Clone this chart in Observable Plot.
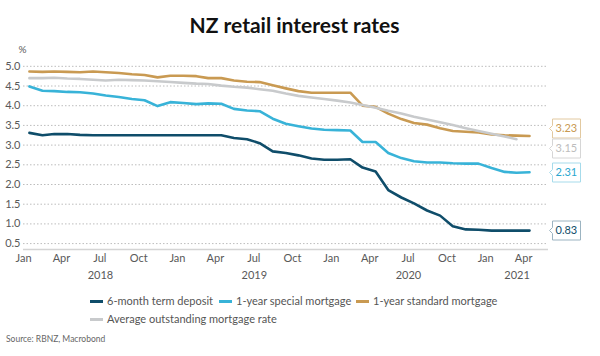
<!DOCTYPE html>
<html>
<head>
<meta charset="utf-8">
<script src="https://cdn.jsdelivr.net/npm/d3@7"></script>
<script src="https://cdn.jsdelivr.net/npm/@observablehq/plot@0.6"></script>
<style>
  html, body { margin: 0; padding: 0; background: #fff; }
  body { width: 600px; height: 356px; position: relative; overflow: hidden; font-family: Lato, "Open Sans", sans-serif; }
  #title { position: absolute; left: 0; top: 13px; width: 589px; text-align: center; font-size: 21px; font-weight: 700; color: #111; line-height: 24px; }
  #chart { position: absolute; left: 0; top: 40px; }
  .leg { position: absolute; height: 14px; line-height: 14px; display: flex; align-items: center; font-size: 11px; color: #555; white-space: nowrap; }
  .leg .sw { display: inline-block; width: 13px; height: 3px; margin-right: 4px; }
  #source { position: absolute; left: 6px; top: 333px; font-size: 8.5px; color: #666; line-height: 12px; }
</style>
</head>
<body>
<div id="title">NZ retail interest rates</div>
<div id="chart"></div>
<div id="legend"></div>
<div id="source">Source: RBNZ, Macrobond</div>
<script>
// ---------- data ----------
const months = [
  "2018-01","2018-02","2018-03","2018-04","2018-05","2018-06","2018-07","2018-08","2018-09","2018-10","2018-11","2018-12",
  "2019-01","2019-02","2019-03","2019-04","2019-05","2019-06","2019-07","2019-08","2019-09","2019-10","2019-11","2019-12",
  "2020-01","2020-02","2020-03","2020-04","2020-05","2020-06","2020-07","2020-08","2020-09","2020-10","2020-11","2020-12",
  "2021-01","2021-02","2021-03","2021-04"
];
const termDeposit = [
  3.31,3.25,3.28,3.28,3.26,3.25,3.25,3.25,3.25,3.25,3.25,3.25,
  3.25,3.25,3.25,3.25,3.18,3.15,3.05,2.84,2.80,2.74,2.66,2.63,
  2.63,2.64,2.43,2.33,1.86,1.67,1.52,1.34,1.21,0.94,0.86,0.85,
  0.83,0.83,0.83,0.83
];
const specialMortgage = [
  4.49,4.38,4.37,4.35,4.34,4.31,4.26,4.22,4.17,4.14,3.99,4.09,
  4.07,4.04,4.06,4.05,3.92,3.88,3.86,3.67,3.54,3.48,3.42,3.39,
  3.38,3.37,3.08,3.08,2.80,2.67,2.59,2.56,2.56,2.54,2.53,2.53,
  2.42,2.32,2.30,2.31
];
const standardMortgage = [
  4.87,4.86,4.87,4.86,4.85,4.87,4.85,4.83,4.80,4.78,4.72,4.76,
  4.76,4.75,4.70,4.70,4.64,4.61,4.60,4.52,4.44,4.37,4.33,4.33,
  4.33,4.33,4.00,3.97,3.80,3.66,3.56,3.52,3.43,3.36,3.34,3.32,
  3.27,3.25,3.24,3.23
];
const avgOutstanding = [
  4.70,4.70,4.71,4.69,4.68,4.66,4.64,4.66,4.65,4.64,4.62,4.60,
  4.58,4.56,4.55,4.51,4.48,4.46,4.42,4.38,4.31,4.25,4.21,4.17,
  4.13,4.08,4.02,3.95,3.87,3.80,3.72,3.65,3.58,3.51,3.43,3.36,
  3.29,3.22,3.15
];
const seriesNames = ["6-month term deposit", "1-year special mortgage", "1-year standard mortgage", "Average outstanding mortgage rate"];
const endLabels = ["0.83", "2.31", "3.23", "3.15"];
const yTicks = [0.5, 1.0, 1.5, 2.0, 2.5, 3.0, 3.5, 4.0, 4.5, 5.0];
const yearLabels = ["2018", "2019", "2020", "2021"];
const yUnit = "%";

// ---------- styles ----------
const lineColors = ["#0f4d6a", "#38b3d8", "#c99a52", "#c8cacc"];
const tipText = ["#0f4d6a", "#2aa7cf", "#c99a52", "#bdbdbd"];
const tipStroke = ["#9cb4c1", "#a6dbeb", "#e2c9a0", "#d6d6d6"];
const tipNudge = [0, 0, -8, 9];
const drawOrder = [0, 1, 2, 3];

// ---------- build table ----------
const parse = d3.utcParse("%Y-%m-%d");
const seriesValues = [termDeposit, specialMortgage, standardMortgage, avgOutstanding];
const rows = [];
seriesValues.forEach((vals, s) => vals.forEach((v, i) => rows.push({date: parse(months[i] + "-15"), value: v, series: seriesNames[s]})));

const xDomain = [parse("2018-01-01"), parse("2021-05-30")];
const yearPos = yearLabels.map(y => {
  const a = Math.max(+parse(y + "-01-01"), +xDomain[0]);
  const b = Math.min(+parse((+y + 1) + "-01-01"), +xDomain[1]);
  return new Date((a + b) / 2);
});
const lastDate = parse(months[months.length - 1] + "-15");
const tipData = endLabels.map((lab, s) => ({date: lastDate, value: +lab, label: lab, s}));

const marks = [
  Plot.gridY(yTicks, {stroke: "#bdbdbd", strokeOpacity: 1, strokeDasharray: "1.5,2", strokeWidth: 1}),
  Plot.ruleY([0.35], {stroke: "#d4d4d4", strokeWidth: 1.5}),
  Plot.axisY(yTicks, {tickSize: 0, tickPadding: 3, tickFormat: d3.format(".1f"), fontSize: 11, color: "#595959", label: null}),
  Plot.axisX({ticks: d3.utcMonth.every(3), tickSize: 0, tickPadding: 5, tickFormat: d3.utcFormat("%b"), fontSize: 11, color: "#595959", label: null}),
  Plot.axisX(yearPos, {tickSize: 0, tickPadding: 22, tickFormat: (d, i) => yearLabels[i], fontSize: 11, color: "#595959", label: null}),
  Plot.text([yUnit], {frameAnchor: "top-left", text: d => d, dx: -1, dy: -9, fontSize: 10, fill: "#595959", textAnchor: "middle"}),
];
drawOrder.forEach(s => {
  marks.push(Plot.line(rows.filter(r => r.series === seriesNames[s]), {x: "date", y: "value", stroke: lineColors[s], strokeWidth: 2.6, strokeLinejoin: "round"}));
});
tipData.forEach(t => {
  marks.push(Plot.tip([t], {x: "date", y: "value", title: "label", anchor: "left", dx: 20, dy: tipNudge[t.s],
    fill: "white", stroke: tipStroke[t.s], strokeWidth: 1, fontSize: 11, textPadding: 3, pointerSize: 6, pathFilter: "none"}));
});

const chart = Plot.plot({
  width: 600, height: 245,
  marginTop: 14, marginBottom: 36, marginLeft: 23, marginRight: 52,
  style: {fontFamily: "Lato, 'Open Sans', sans-serif", fontSize: "11px", background: "transparent", overflow: "visible"},
  x: {type: "utc", domain: xDomain},
  y: {domain: [0.35, 5.3]},
  marks
});
document.getElementById("chart").appendChild(chart);
chart.querySelectorAll('g[aria-label="tip"]').forEach((g, i) => {
  g.style.color = tipText[tipData[i].s];
  g.querySelectorAll("text").forEach(t => t.setAttribute("font-size", "11"));
});

// ---------- legend ----------
const legendPos = [[90, 294], [219, 294], [356, 294], [90, 312]];
const legend = document.getElementById("legend");
seriesNames.forEach((name, s) => {
  const d = document.createElement("div");
  d.className = "leg";
  d.style.left = legendPos[s][0] + "px";
  d.style.top = legendPos[s][1] + "px";
  d.innerHTML = `<span class="sw" style="background:${lineColors[s]}"></span>${name}`;
  legend.appendChild(d);
});
</script>
</body>
</html>
